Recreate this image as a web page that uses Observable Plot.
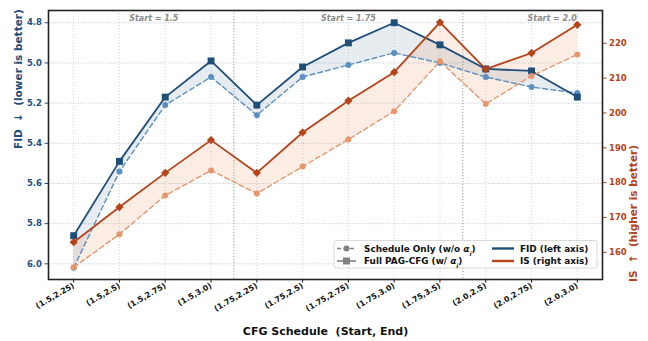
<!DOCTYPE html>
<html>
<head>
<meta charset="utf-8">
<script src="https://cdn.jsdelivr.net/npm/d3@7"></script>
<script src="https://cdn.jsdelivr.net/npm/@observablehq/plot@0.6"></script>
<style>
  html, body { margin: 0; padding: 0; background: #fff; }
  #chart { position: relative; width: 648px; height: 341px; }
  svg { font-family: "DejaVu Sans", sans-serif; }
</style>
</head>
<body>
<div id="chart"></div>
<script>
// ---- data ----
const labels = ["(1.5,2.25)","(1.5,2.5)","(1.5,2.75)","(1.5,3.0)","(1.75,2.25)","(1.75,2.5)","(1.75,2.75)","(1.75,3.0)","(1.75,3.5)","(2.0,2.5)","(2.0,2.75)","(2.0,3.0)"];
const fidFull  = [5.86, 5.49, 5.17, 4.99, 5.21, 5.02, 4.90, 4.80, 4.91, 5.03, 5.04, 5.17];
const fidSched = [6.02, 5.54, 5.21, 5.07, 5.26, 5.07, 5.01, 4.95, 5.00, 5.07, 5.12, 5.15];
const isFull   = [162.9, 173.0, 182.8, 192.2, 182.8, 194.4, 203.5, 211.7, 226.0, 212.6, 217.2, 225.3];
const isSched  = [155.7, 165.2, 176.3, 183.5, 176.9, 184.6, 192.4, 200.5, 214.8, 202.6, 210.6, 216.8];
const fidTicks = [4.8, 5.0, 5.2, 5.4, 5.6, 5.8, 6.0];
const isTicks  = [160, 170, 180, 190, 200, 210, 220];
const groupNames = ["Start = 1.5", "Start = 1.75", "Start = 2.0"];
const groupLabelAt = [1.75, 6.0, 10.45];
const groupBreaks = [3.5, 8.5];

// ---- colours ----
const cFid = "#1f4e79", cFidL = "#5b8fbf";
const cIs = "#b5441a", cIsL = "#e8956b";

// ---- dual axis mapping (IS drawn on the FID scale) ----
const fidDomain = [6.078, 4.739];
const isDomain = [152.2, 229.4];
const isToFid = d3.scaleLinear().domain(isDomain).range(fidDomain);

const data = labels.map((l, i) => ({
  i, label: l,
  fidFull: fidFull[i], fidSched: fidSched[i],
  isFull: isToFid(isFull[i]), isSched: isToFid(isSched[i])
}));
const idx = labels.map((_, i) => i);

const plot = Plot.plot({
  width: 648, height: 341,
  marginLeft: 48, marginRight: 46, marginTop: 10, marginBottom: 62,
  style: {fontFamily: "DejaVu Sans, sans-serif", background: "#fff"},
  x: {type: "linear", domain: [-0.55, 11.55]},
  y: {type: "linear", domain: fidDomain},
  marks: [
    Plot.gridX(idx, {stroke: "#c8ccd4", strokeOpacity: 1, strokeDasharray: "1,2", strokeWidth: 0.8}),
    Plot.gridY(fidTicks, {stroke: "#a9bdd2", strokeOpacity: 1, strokeDasharray: "1,1.5", strokeWidth: 0.8}),
    Plot.ruleX(groupBreaks, {stroke: "#9a9a9a", strokeDasharray: "1.2,1.8", strokeWidth: 1}),
    Plot.areaY(data, {x: "i", y1: "fidSched", y2: "fidFull", fill: cFid, fillOpacity: 0.11}),
    Plot.areaY(data, {x: "i", y1: "isSched", y2: "isFull", fill: cIsL, fillOpacity: 0.18}),
    Plot.line(data, {x: "i", y: "fidSched", stroke: cFidL, strokeWidth: 1.4, strokeDasharray: "5,3"}),
    Plot.dot(data, {x: "i", y: "fidSched", r: 3, fill: cFidL, stroke: "none"}),
    Plot.line(data, {x: "i", y: "fidFull", stroke: cFid, strokeWidth: 1.8}),
    Plot.dot(data, {x: "i", y: "fidFull", symbol: "square", r: 3.9, fill: cFid, stroke: "none"}),
    Plot.line(data, {x: "i", y: "isSched", stroke: cIsL, strokeWidth: 1.4, strokeDasharray: "5,3"}),
    Plot.dot(data, {x: "i", y: "isSched", r: 3, fill: cIsL, stroke: "none"}),
    Plot.line(data, {x: "i", y: "isFull", stroke: cIs, strokeWidth: 1.8}),
    Plot.dot(data, {x: "i", y: "isFull", symbol: "square", rotate: 45, r: 3.3, fill: cIs, stroke: "none"}),
    Plot.text(groupNames, {x: (d, i) => groupLabelAt[i], frameAnchor: "top", dy: 4.5, text: d => d,
      fill: "#8a8a8a", fontSize: 8, fontWeight: "bold", fontStyle: "italic"}),
    Plot.axisY(fidTicks, {anchor: "left", tickSize: 3.5, tickPadding: 3, tickFormat: d3.format(".1f"),
      color: cFid, fontWeight: "bold", fontSize: 8.5, label: null}),
    Plot.axisY(isTicks.map(isToFid), {anchor: "right", tickSize: 3.5, tickPadding: 3,
      tickFormat: d => String(Math.round(isToFid.invert(d))),
      color: cIs, fontWeight: "bold", fontSize: 8.5, label: null}),
    Plot.axisX(idx, {anchor: "bottom", tickSize: 3.5, tickPadding: 2, tickRotate: -30,
      tickFormat: d => labels[d], fontWeight: "bold", fontSize: 7.8, color: "#111", label: null}),
    Plot.text(["FID  \u2193  (lower is better)"], {frameAnchor: "left", dx: -30, dy: 4, rotate: -90,
      fill: cFid, fontWeight: "bold", fontSize: 10.5}),
    Plot.text(["IS  \u2191  (higher is better)"], {frameAnchor: "right", dx: 31, dy: 0, rotate: -90,
      fill: cIs, fontWeight: "bold", fontSize: 10.5}),
    Plot.text(["CFG Schedule  (Start, End)"], {frameAnchor: "bottom", dy: 55,
      fill: "#111", fontWeight: "bold", fontSize: 11}),
    Plot.frame({stroke: "#222", strokeWidth: 1.6})
  ]
});
document.getElementById("chart").appendChild(plot);

// ---- legend (drawn into the svg) ----
const svg = d3.select(plot);
const lg = svg.append("g").attr("font-family", "DejaVu Sans, sans-serif").attr("font-size", 8.9)
  .attr("font-weight", "bold").attr("text-anchor", "start");
lg.append("rect").attr("x", 334).attr("y", 240.5).attr("width", 263).attr("height", 27.5).attr("rx", 2)
  .attr("fill", "#fff").attr("fill-opacity", 0.9).attr("stroke", "#cfcfcf").attr("stroke-width", 0.8);
const rows = [248.5, 261];
// column 1
lg.append("line").attr("x1", 337).attr("x2", 356).attr("y1", rows[0]).attr("y2", rows[0])
  .attr("stroke", "#808080").attr("stroke-width", 1.4).attr("stroke-dasharray", "4,2.5");
lg.append("circle").attr("cx", 346.5).attr("cy", rows[0]).attr("r", 3).attr("fill", "#808080");
lg.append("line").attr("x1", 337).attr("x2", 356).attr("y1", rows[1]).attr("y2", rows[1])
  .attr("stroke", "#808080").attr("stroke-width", 1.6);
lg.append("rect").attr("x", 343).attr("y", rows[1] - 3.5).attr("width", 7).attr("height", 7).attr("fill", "#808080");
function legendText(x, y, parts) {
  const t = lg.append("text").attr("x", x).attr("y", y).attr("dy", "0.35em").attr("fill", "#111")
    .attr("text-anchor", "start");
  parts.forEach(p => {
    const s = t.append("tspan").text(p.t);
    if (p.it) s.attr("font-style", "italic");
    if (p.sub) s.attr("baseline-shift", "sub").attr("font-size", 6);
  });
}
legendText(364, rows[0], [{t: "Schedule Only (w/o "}, {t: "\u03b1", it: true}, {t: "i", it: true, sub: true}, {t: ")"}]);
legendText(364, rows[1], [{t: "Full PAG-CFG (w/ "}, {t: "\u03b1", it: true}, {t: "i", it: true, sub: true}, {t: ")"}]);
// column 2
lg.append("line").attr("x1", 492).attr("x2", 514).attr("y1", rows[0]).attr("y2", rows[0])
  .attr("stroke", cFid).attr("stroke-width", 2.4);
lg.append("line").attr("x1", 492).attr("x2", 514).attr("y1", rows[1]).attr("y2", rows[1])
  .attr("stroke", cIs).attr("stroke-width", 2.4);
legendText(520, rows[0], [{t: "FID (left axis)"}]);
legendText(520, rows[1], [{t: "IS (right axis)"}]);
</script>
</body>
</html>
